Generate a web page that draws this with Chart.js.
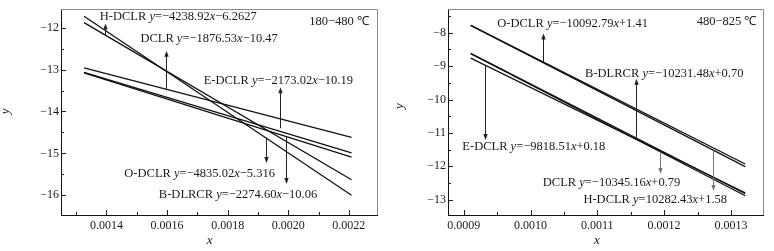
<!DOCTYPE html>
<html>
<head>
<meta charset="utf-8">
<script src="https://cdn.jsdelivr.net/npm/chart.js@4.4.1/dist/chart.umd.min.js"></script>
<style>
  html, body { margin: 0; padding: 0; background: #fff; }
  #wrap { position: relative; width: 774px; height: 251px; }
  .panel { position: absolute; top: 0; height: 251px; }
</style>
</head>
<body>
<div id="wrap">
  <div class="panel" style="left:0;width:388px"><canvas id="lowChart"></canvas></div>
  <div class="panel" style="left:388px;width:386px"><canvas id="highChart"></canvas></div>
</div>
<script>
// ---- data (each fit line: start / end) ----
const seriesNames = ["H-DCLR", "DCLR", "E-DCLR", "O-DCLR", "B-DLRCR"];

// 180-480 ℃
const lowX = [0.001326, 0.002209];
const lowH = [-11.88, -15.63];
const lowD = [-12.96, -14.62];
const lowE = [-13.07, -14.99];
const lowO = [-11.73, -16.00];
const lowB = [-13.08, -15.09];

// 480-825 ℃
const highX = [0.0009105, 0.0013214];
const highH = [-7.78, -12.01];
const highD = [-8.63, -12.88];
const highE = [-8.76, -12.79];
const highO = [-7.78, -11.93];
const highB = [-8.62, -12.82];

// tick values
const lowXTicks = [0.0014, 0.0016, 0.0018, 0.0020, 0.0022];
const lowXMinor = [0.0013, 0.0015, 0.0017, 0.0019, 0.0021];
const lowYTicks = [-16, -15, -14, -13, -12];
const lowYMinor = [-15.5, -14.5, -13.5, -12.5];
const highXTicks = [0.0009, 0.0010, 0.0011, 0.0012, 0.0013];
const highXMinor = [0.00095, 0.00105, 0.00115, 0.00125];
const highYTicks = [-13, -12, -11, -10, -9, -8];
const highYMinor = [-12.5, -11.5, -10.5, -9.5, -8.5, -7.5];

// equation labels
const lowLabels = [
  "H-DCLR y=−4238.92x−6.2627",
  "DCLR y=−1876.53x−10.47",
  "E-DCLR y=−2173.02x−10.19",
  "O-DCLR y=−4835.02x−5.316",
  "B-DLRCR y=−2274.60x−10.06"
];
const highLabels = [
  "H-DCLR y=10282.43x+1.58",
  "DCLR y=−10345.16x+0.79",
  "E-DCLR y=−9818.51x+0.18",
  "O-DCLR y=−10092.79x+1.41",
  "B-DLRCR y=−10231.48x+0.70"
];

Chart.defaults.font.family = '"Liberation Serif", "Times New Roman", serif';
Chart.defaults.font.size = 12;
Chart.defaults.color = "#1a1a1a";

// ticks inside, gray top/right frame, arrows + equations
const frameAndNotes = {
  id: "frameAndNotes",
  afterDatasetsDraw(chart, args, opts) {
    const { ctx, chartArea: a, scales } = chart;
    const sx = scales.x, sy = scales.y;
    const r = v => Math.round(v) + 0.5;
    ctx.save();

    ctx.strokeStyle = "#8a8a8a";
    ctx.lineWidth = 1;
    ctx.beginPath();
    ctx.moveTo(a.left, r(a.top));
    ctx.lineTo(r(a.right), r(a.top));
    ctx.lineTo(r(a.right), a.bottom);
    ctx.stroke();

    ctx.strokeStyle = "#222";
    ctx.beginPath();
    const tickX = (vals, len) => vals.forEach(v => {
      const px = r(sx.getPixelForValue(v));
      ctx.moveTo(px, a.bottom); ctx.lineTo(px, a.bottom - len);
    });
    const tickY = (vals, len) => vals.forEach(v => {
      const py = r(sy.getPixelForValue(v));
      ctx.moveTo(a.left, py); ctx.lineTo(a.left + len, py);
    });
    tickX(opts.xMajor, 5); tickX(opts.xMinor, 3);
    tickY(opts.yMajor, 5); tickY(opts.yMinor, 3);
    ctx.stroke();

    // arrows
    opts.notes.forEach(n => {
      if (n.ax === undefined) return;
      const px = r(sx.getPixelForValue(n.ax));
      const y0 = sy.getPixelForValue(n.ay0);
      const y1 = sy.getPixelForValue(n.ay1);
      const dir = y1 < y0 ? 1 : -1;
      ctx.strokeStyle = n.gray ? "#777" : "#222";
      ctx.fillStyle = n.gray ? "#777" : "#222";
      ctx.lineWidth = 1;
      ctx.beginPath();
      ctx.moveTo(px, y0); ctx.lineTo(px, y1 + dir * 5);
      ctx.stroke();
      ctx.beginPath();
      ctx.moveTo(px, y1);
      ctx.lineTo(px - 2.2, y1 + dir * 6);
      ctx.lineTo(px + 2.2, y1 + dir * 6);
      ctx.closePath();
      ctx.fill();
    });

    // equation text, x and y in italics
    ctx.fillStyle = "#1a1a1a";
    ctx.textBaseline = "middle";
    opts.notes.forEach(n => {
      const parts = n.text.split(/([xy])/).filter(s => s);
      const fontOf = s => (s === "x" || s === "y" ? "italic " : "") + opts.noteSize + 'px "Liberation Serif", serif';
      let w = 0;
      parts.forEach(s => { ctx.font = fontOf(s); w += ctx.measureText(s).width; });
      let cx = sx.getPixelForValue(n.x);
      if (n.align === "right") cx -= w;
      const cy = sy.getPixelForValue(n.y);
      parts.forEach(s => {
        ctx.font = fontOf(s);
        ctx.fillText(s, cx, cy);
        cx += ctx.measureText(s).width;
      });
    });

    // axis titles
    ctx.font = 'italic 13px "Liberation Serif", serif';
    ctx.textAlign = "center";
    ctx.fillText("x", sx.getPixelForValue(opts.xTitleAt), 241);
    ctx.translate(opts.yTitleLeft, sy.getPixelForValue(opts.yTitleAt));
    ctx.rotate(-Math.PI / 2);
    ctx.fillText("y", 0, 0);
    ctx.restore();
  }
};

function makeChart(id, xs, ys, xr, yr, xt, yt, plugOpts, yWidth) {
  const datasets = ys.map((vals, i) => ({
    label: seriesNames[i],
    data: xs.map((x, j) => ({ x: x, y: vals[j] })),
    borderColor: "#111",
    borderWidth: 1.3,
    pointRadius: 0,
    tension: 0
  }));
  return new Chart(document.getElementById(id), {
    type: "line",
    data: { datasets: datasets },
    options: {
      responsive: true,
      maintainAspectRatio: false,
      animation: false,
      layout: { padding: { top: 7, right: 11, left: 0, bottom: 0 } },
      plugins: { legend: { display: false }, tooltip: { enabled: false }, frameAndNotes: plugOpts },
      scales: {
        x: {
          type: "linear", min: xr[0], max: xr[1],
          grid: { display: false, drawTicks: false },
          border: { display: true, color: "#111", width: 1 },
          afterBuildTicks: s => { s.ticks = xt.map(v => ({ value: v })); },
          afterFit: s => { s.height = 36; },
          ticks: { padding: 4, autoSkip: false, maxRotation: 0, callback: v => v.toFixed(4) }
        },
        y: {
          type: "linear", min: yr[0], max: yr[1],
          grid: { display: false, drawTicks: false },
          border: { display: true, color: "#111", width: 1 },
          afterBuildTicks: s => { s.ticks = yt.map(v => ({ value: v })); },
          afterFit: s => { s.width = yWidth; },
          ticks: { padding: 2, autoSkip: false, callback: v => (v < 0 ? "−" : "") + Math.abs(v) }
        }
      }
    },
    plugins: [frameAndNotes]
  });
}

makeChart("lowChart", lowX, [lowH, lowD, lowE, lowO, lowB],
  [0.00125, 0.002293], [-16.47, -11.56], lowXTicks, lowYTicks, {
    xMajor: lowXTicks, xMinor: lowXMinor, yMajor: lowYTicks, yMinor: lowYMinor,
    noteSize: 12.5, xTitleAt: 0.001741, yTitleAt: -14.0, yTitleLeft: 6,
    notes: [
      { text: lowLabels[0], x: 0.001378, y: -11.739, ax: 0.001395, ay0: -12.18, ay1: -11.90 },
      { text: lowLabels[1], x: 0.001512, y: -12.254, ax: 0.001595, ay0: -13.46, ay1: -12.55 },
      { text: lowLabels[2], x: 0.001721, y: -13.264, ax: 0.001974, ay0: -14.40, ay1: -13.42 },
      { text: lowLabels[3], x: 0.001459, y: -15.493, ax: 0.001925, ay0: -14.62, ay1: -15.23 },
      { text: lowLabels[4], x: 0.001573, y: -15.984, ax: 0.001991, ay0: -14.59, ay1: -15.73 },
      { text: "180−480 ℃", x: 0.002266, y: -11.858, align: "right" }
    ]
  }, 61);

makeChart("highChart", highX, [highH, highD, highE, highO, highB],
  [0.0008765, 0.001348], [-13.457, -7.296], highXTicks, highYTicks, {
    xMajor: highXTicks, xMinor: highXMinor, yMajor: highYTicks, yMinor: highYMinor,
    noteSize: 12.5, xTitleAt: 0.0010993, yTitleAt: -10.2, yTitleLeft: 12,
    notes: [
      { text: highLabels[3], x: 0.0009503, y: -7.724, ax: 0.0010184, ay0: -8.87, ay1: -8.02 },
      { text: highLabels[4], x: 0.0010817, y: -9.227, ax: 0.0011577, ay0: -11.145, ay1: -9.375 },
      { text: highLabels[2], x: 0.000898, y: -11.416, ax: 0.000932, ay0: -8.97, ay1: -11.21 },
      { text: highLabels[1], x: 0.0010184, y: -12.494, ax: 0.0011941, ay0: -11.56, ay1: -12.23, gray: true },
      { text: highLabels[0], x: 0.0010792, y: -12.999, ax: 0.0012739, ay0: -11.52, ay1: -12.74, gray: true },
      { text: "480−825 ℃", x: 0.001338, y: -7.673, align: "right" }
    ]
  }, 60);
</script>
</body>
</html>
